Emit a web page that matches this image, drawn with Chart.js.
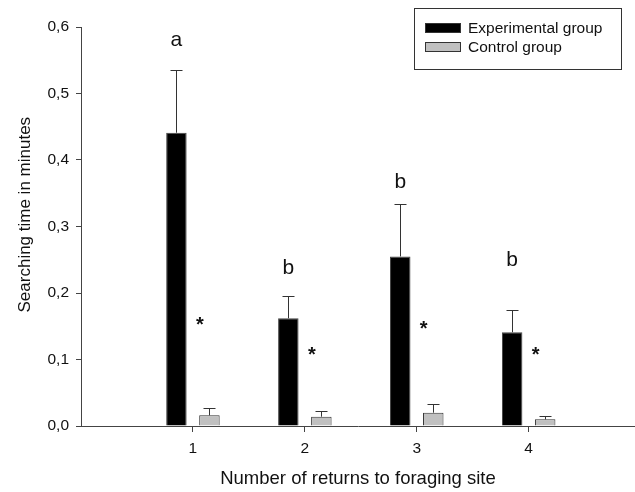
<!DOCTYPE html>
<html>
<head>
<meta charset="utf-8">
<script src="https://cdn.jsdelivr.net/npm/chart.js@4/dist/chart.umd.min.js"></script>
<style>
  html, body { margin: 0; padding: 0; background: #fff; overflow: hidden; }
  #wrap { width: 635px; height: 492px; position: relative; }
</style>
</head>
<body>
<div id="wrap"><canvas id="c" width="635" height="492"></canvas></div>
<script>
// ---- data ----
const categories = [1, 2, 3, 4];
const seriesNames = ['Experimental group', 'Control group'];
const experimental = [0.441, 0.162, 0.255, 0.141];
const experimentalErr = [0.094, 0.033, 0.079, 0.034];
const control = [0.016, 0.014, 0.020, 0.010];
const controlErr = [0.011, 0.008, 0.013, 0.005];
const letters = ['a', 'b', 'b', 'b'];
const letterY = [0.58, 0.238, 0.367, 0.25];
const starY = [0.159, 0.114, 0.152, 0.114];
const yTicks = [0, 0.1, 0.2, 0.3, 0.4, 0.5, 0.6];
const xTitle = 'Number of returns to foraging site';
const yTitle = 'Searching time in minutes';

const FONT = "'Liberation Sans', Arial, sans-serif";
const errs = [experimentalErr, controlErr];

const errorBarPlugin = {
  id: 'errorBars',
  afterDatasetsDraw(chart) {
    const ctx = chart.ctx;
    const y = chart.scales.y;
    ctx.save();
    ctx.strokeStyle = '#333';
    ctx.lineWidth = 1;
    chart.data.datasets.forEach((ds, di) => {
      const meta = chart.getDatasetMeta(di);
      meta.data.forEach((el, i) => {
        const v = ds.data[i].y;
        const top = y.getPixelForValue(v + errs[di][i]);
        const base = y.getPixelForValue(v);
        const x = Math.round(el.x) + 0.5;
        ctx.beginPath();
        ctx.moveTo(x, base);
        ctx.lineTo(x, Math.round(top) + 0.5);
        ctx.moveTo(x - 6, Math.round(top) + 0.5);
        ctx.lineTo(x + 6, Math.round(top) + 0.5);
        ctx.stroke();
      });
    });
    // letters over experimental bars
    const xs = chart.scales.x;
    const m0 = chart.getDatasetMeta(0);
    ctx.fillStyle = '#111';
    ctx.textAlign = 'center';
    ctx.textBaseline = 'middle';
    ctx.font = '21px ' + FONT;
    letters.forEach((l, i) => {
      ctx.fillText(l, m0.data[i].x, y.getPixelForValue(letterY[i]));
    });
    ctx.font = 'bold 20px ' + FONT;
    starY.forEach((s, i) => {
      ctx.fillText('*', xs.getPixelForValue(categories[i]) + 7, y.getPixelForValue(s) + 5);
    });
    ctx.restore();
  }
};

const legendPlugin = {
  id: 'boxLegend',
  afterDraw(chart) {
    const ctx = chart.ctx;
    ctx.save();
    ctx.strokeStyle = '#333';
    ctx.lineWidth = 1;
    ctx.strokeRect(414.5, 8.5, 207, 61);
    const items = [
      { name: seriesNames[0], fill: '#000', y: 23 },
      { name: seriesNames[1], fill: '#c0c0c0', y: 42 }
    ];
    ctx.font = '15.5px ' + FONT;
    ctx.textBaseline = 'middle';
    ctx.textAlign = 'left';
    items.forEach(it => {
      ctx.fillStyle = it.fill;
      ctx.fillRect(425, it.y, 36, 10);
      ctx.strokeStyle = '#333';
      ctx.strokeRect(425.5, it.y + 0.5, 35, 9);
      ctx.fillStyle = '#111';
      ctx.fillText(it.name, 468, it.y + 6);
    });
    ctx.restore();
  }
};

new Chart(document.getElementById('c'), {
  type: 'bar',
  data: {
    datasets: [
      {
        label: seriesNames[0],
        data: categories.map((c, i) => ({ x: c, y: experimental[i] })),
        backgroundColor: '#000',
        borderColor: '#444',
        borderWidth: 1,
        categoryPercentage: 0.59,
        barPercentage: 0.62
      },
      {
        label: seriesNames[1],
        data: categories.map((c, i) => ({ x: c, y: control[i] })),
        backgroundColor: '#c0c0c0',
        borderColor: '#333',
        borderWidth: 1,
        categoryPercentage: 0.59,
        barPercentage: 0.62
      }
    ]
  },
  options: {
    responsive: false,
    animation: false,
    layout: { padding: { top: 27, right: 0, left: 0, bottom: 0 } },
    plugins: { legend: { display: false }, tooltip: { enabled: false } },
    scales: {
      x: {
        type: 'linear',
        offset: false,
        min: 0,
        max: 4.95,
        afterBuildTicks: s => { s.ticks = categories.map(v => ({ value: v })); },
        afterFit: s => { s.height = 66; },
        grid: { display: true, offset: false, drawOnChartArea: false, drawTicks: true, tickLength: 6, color: '#444', tickWidth: 1 },
        border: { color: '#444', width: 1 },
        ticks: { color: '#111', font: { family: FONT, size: 15.5 }, padding: 7, callback: v => String(v) },
        title: { display: true, text: xTitle, color: '#111', font: { family: FONT, size: 18.5 }, padding: { top: 4, bottom: 2 } }
      },
      y: {
        min: 0,
        max: 0.6,
        afterBuildTicks: s => { s.ticks = yTicks.map(v => ({ value: v })); },
        afterFit: s => { s.width = 81; },
        grid: { display: true, drawOnChartArea: false, drawTicks: true, tickLength: 5, color: '#444', tickWidth: 1 },
        border: { color: '#444', width: 1 },
        ticks: { color: '#111', font: { family: FONT, size: 15.5 }, padding: 7, callback: v => v.toFixed(1).replace('.', ',') },
        title: { display: true, text: '     ' + yTitle, color: '#111', font: { family: FONT, size: 17 }, padding: { top: 15, bottom: 0 } }
      }
    }
  },
  plugins: [errorBarPlugin, legendPlugin]
});
</script>
</body>
</html>
